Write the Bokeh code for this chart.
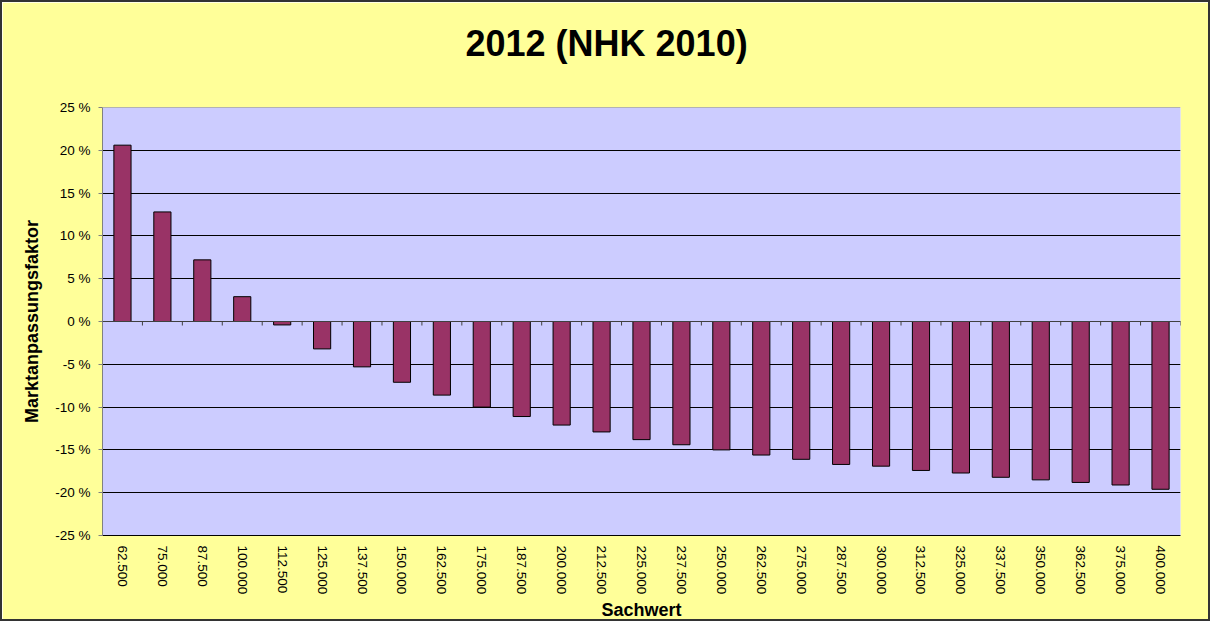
from bokeh.plotting import figure
from bokeh.models import FixedTicker, Span, Range1d, ColumnDataSource
from bokeh.embed import file_html
from bokeh.resources import INLINE

title_text = "2012 (NHK 2010)"
x_label = "Sachwert"
y_label = "Marktanpassungsfaktor"

categories = ["62.500", "75.000", "87.500", "100.000", "112.500", "125.000",
              "137.500", "150.000", "162.500", "175.000", "187.500", "200.000",
              "212.500", "225.000", "237.500", "250.000", "262.500", "275.000",
              "287.500", "300.000", "312.500", "325.000", "337.500", "350.000",
              "362.500", "375.000", "400.000"]
values = [20.6, 12.8, 7.2, 2.9, -0.4, -3.2, -5.3, -7.1, -8.6, -10.0, -11.1, -12.1,
          -12.9, -13.8, -14.4, -15.0, -15.6, -16.1, -16.7, -16.9, -17.4, -17.7,
          -18.2, -18.5, -18.8, -19.1, -19.6]
y_ticks = [-25, -20, -15, -10, -5, 0, 5, 10, 15, 20, 25]

FONT = "Liberation Sans"
n = len(categories)
xs = list(range(n))

p = figure(width=1210, height=621, output_backend="svg", toolbar_location=None,
           x_range=Range1d(-0.5, n - 0.5), y_range=Range1d(-25, 25),
           min_border_left=100, min_border_right=32, min_border_top=105,
           min_border_bottom=85)
p.background_fill_color = "#CCCCFF"
p.border_fill_color = "#FFFF99"
p.outline_line_color = None
p.styles = {"border": "2px solid #333333", "box-sizing": "border-box"}

# title
p.title.text = title_text
p.title.align = "left"
p.title.offset = 363
p.title.vertical_align = "bottom"
p.title.standoff = 0
p.title.padding = dict(top=0, bottom=44, left=0, right=0)
p.title.text_font = FONT
p.title.text_font_style = "bold"
p.title.text_font_size = "36px"
p.title.text_color = "#000000"

# grid
p.xgrid.visible = False
p.ygrid.ticker = FixedTicker(ticks=[t for t in y_ticks if abs(t) < 25])
p.ygrid.grid_line_color = "#000000"
p.ygrid.grid_line_width = 1

# top edge of plot area
p.add_layout(Span(location=y_ticks[-1], dimension="width", line_color="#808080", line_width=1))

# bars
src = ColumnDataSource(dict(x=xs, top=values))
p.vbar(x="x", top="top", bottom=0, width=0.43, source=src,
       fill_color="#993366", line_color="#000000", line_width=1)

# zero axis line with category boundary ticks
p.add_layout(Span(location=0, dimension="width", line_color="#404040", line_width=1))
bounds = [i - 0.5 for i in range(n + 1)]
p.segment(x0=bounds, y0=[0] * len(bounds), x1=bounds, y1=[-0.47] * len(bounds),
          line_color="#404040", line_width=1)

# y axis
p.yaxis.ticker = FixedTicker(ticks=y_ticks)
p.yaxis.major_label_overrides = {t: f"{t} %" for t in y_ticks}
p.yaxis.axis_line_color = "#808080"
p.yaxis.major_tick_line_color = "#808080"
p.yaxis.major_tick_out = 4
p.yaxis.major_tick_in = 0
p.yaxis.minor_tick_line_color = None
p.yaxis.major_label_standoff = 8
p.yaxis.major_label_text_font = FONT
p.yaxis.major_label_text_font_size = "13.5px"
p.yaxis.major_label_text_color = "#000000"
p.yaxis.axis_label = y_label
p.yaxis.axis_label_text_font = FONT
p.yaxis.axis_label_text_font_style = "bold"
p.yaxis.axis_label_text_font_size = "18px"
p.yaxis.axis_label_text_color = "#000000"
p.yaxis.axis_label_standoff = 10

# x axis
p.xaxis.ticker = FixedTicker(ticks=xs)
p.xaxis.major_label_overrides = {i: c for i, c in zip(xs, categories)}
p.xaxis.major_label_orientation = "vertical"
p.xaxis.axis_line_color = "#000000"
p.xaxis.major_tick_line_color = None
p.xaxis.minor_tick_line_color = None
p.xaxis.major_tick_out = 0
p.xaxis.major_tick_in = 0
p.xaxis.major_label_standoff = 10
p.xaxis.major_label_text_font = FONT
p.xaxis.major_label_text_font_size = "13.5px"
p.xaxis.major_label_text_color = "#000000"
p.xaxis.axis_label = x_label
p.xaxis.axis_label_text_font = FONT
p.xaxis.axis_label_text_font_style = "bold"
p.xaxis.axis_label_text_font_size = "18px"
p.xaxis.axis_label_text_color = "#000000"
p.xaxis.axis_label_standoff = 3

open("out.html", "w").write(file_html(p, INLINE))
